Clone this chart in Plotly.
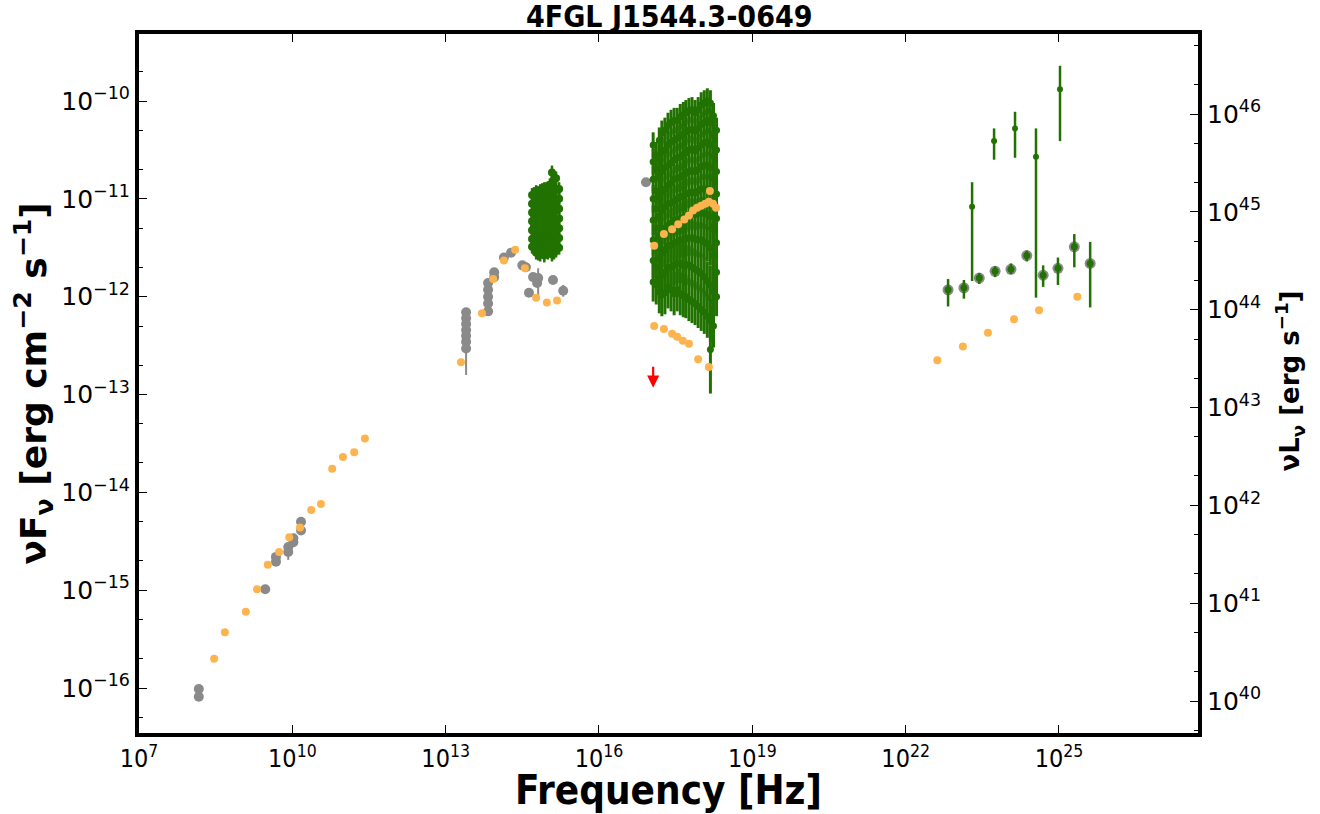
import numpy as np
import plotly.graph_objects as go

# ---------------- data, log10 units ----------------
# Template SED (orange)
tmpl_lognu = [8.47, 8.68, 9.09, 9.31, 9.52, 9.74, 9.94, 10.15, 10.37, 10.56, 10.78, 10.99, 11.21, 11.42,
              13.30, 13.71, 13.93, 14.14, 14.36, 14.55, 14.77, 14.98, 15.18,
              17.08, 17.27, 17.43, 17.55, 17.67, 17.76, 17.84, 17.92, 18.00, 18.08, 18.15, 18.17, 18.23, 18.29,
              17.08, 17.27, 17.43, 17.53, 17.64, 17.76, 17.94, 18.15,
              22.62, 23.12, 23.61, 24.12, 24.61, 25.36]
tmpl_logf = [-15.70, -15.43, -15.22, -14.99, -14.74, -14.61, -14.46, -14.36, -14.18, -14.12, -13.76, -13.64, -13.59, -13.45,
             -12.67, -12.17, -11.82, -11.63, -11.52, -11.71, -12.01, -12.06, -12.04,
             -11.48, -11.36, -11.31, -11.26, -11.21, -11.17, -11.12, -11.09, -11.07, -11.05, -11.03, -10.92, -11.05, -11.09,
             -12.30, -12.33, -12.38, -12.41, -12.45, -12.48, -12.64, -12.72,
             -12.65, -12.51, -12.37, -12.23, -12.14, -12.00]

# Archival data (gray)
arch_lognu = [8.17, 8.17, 9.47, 9.68, 9.68, 9.92, 9.92, 10.02, 10.02, 10.17, 10.17,
              13.40, 13.40, 13.40, 13.40, 13.40, 13.40, 13.40,
              13.83, 13.83, 13.83, 13.83, 13.83, 13.95, 13.95, 14.14, 14.28, 14.50, 14.57,
              14.71, 14.81, 14.63, 14.79, 15.10, 15.30, 16.92]
arch_logf = [-16.01, -16.09, -14.99, -14.66, -14.71, -14.56, -14.61, -14.47, -14.51, -14.30, -14.39,
             -12.16, -12.22, -12.28, -12.34, -12.40, -12.46, -12.53,
             -11.86, -11.93, -12.00, -12.07, -12.15, -11.75, -11.80, -11.60, -11.55, -11.68, -11.70,
             -11.80, -11.81, -11.96, -11.86, -11.83, -11.94, -10.83]
arch_err_lo = [0.02, 0.02, 0.02, 0.02, 0.02, 0.03, 0.08, 0.02, 0.02, 0.02, 0.02,
               0.02, 0.02, 0.02, 0.02, 0.02, 0.02, 0.27,
               0.02, 0.02, 0.02, 0.02, 0.02, 0.02, 0.02, 0.02, 0.02, 0.02, 0.02,
               0.02, 0.19, 0.02, 0.02, 0.02, 0.06, 0.02]
arch_err_hi = [0.02, 0.02, 0.02, 0.02, 0.02, 0.03, 0.04, 0.02, 0.02, 0.02, 0.02,
               0.04, 0.02, 0.02, 0.02, 0.02, 0.02, 0.02,
               0.02, 0.02, 0.02, 0.02, 0.02, 0.02, 0.02, 0.02, 0.02, 0.02, 0.02,
               0.02, 0.10, 0.02, 0.02, 0.02, 0.06, 0.02]

# Optical/UV multi-epoch data (green)
opt_lognu = [14.69, 14.73, 14.77, 14.81, 14.85, 14.89, 14.93, 14.97, 15.00, 15.04, 15.08, 15.12, 15.16, 15.22]
opt_logf = [
    [-10.96, -11.05, -11.14, -11.23, -11.32, -11.41, -11.49],
    [-10.95, -11.06, -11.17, -11.28, -11.39, -11.50],
    [-10.93, -11.02, -11.11, -11.20, -11.30, -11.40, -11.50, -11.55],
    [-10.94, -11.05, -11.16, -11.27, -11.38, -11.49, -11.56],
    [-10.92, -11.01, -11.10, -11.20, -11.30, -11.40, -11.50, -11.57],
    [-10.91, -11.03, -11.15, -11.27, -11.39, -11.51],
    [-10.90, -10.99, -11.09, -11.19, -11.29, -11.39, -11.49, -11.58],
    [-10.90, -11.02, -11.14, -11.26, -11.38, -11.50],
    [-10.89, -10.98, -11.08, -11.18, -11.28, -11.38, -11.48, -11.55],
    [-10.86, -10.99, -11.12, -11.25, -11.38, -11.51],
    [-10.84, -10.73, -10.94, -11.04, -11.14, -11.25, -11.36, -11.47, -11.57],
    [-10.80, -10.93, -11.06, -11.19, -11.32, -11.45, -11.55],
    [-10.79, -10.90, -11.01, -11.12, -11.23, -11.34, -11.45, -11.53],
    [-10.90, -11.00, -11.10, -11.20, -11.30, -11.40, -11.50],
]
opt_err = 0.07

# X-ray multi-epoch data (green)
xray_lognu = [17.06, 17.12, 17.18, 17.23, 17.29, 17.35, 17.41, 17.47, 17.53, 17.59, 17.65,
              17.70, 17.76, 17.82, 17.88, 17.94, 18.00, 18.06, 18.12, 18.18, 18.24, 18.30]
xray_logf = [
    [-10.45, -10.62, -10.80, -11.00, -11.22, -11.42, -11.63, -11.85],
    [-10.55, -10.70, -10.92, -11.10, -11.30, -11.50, -11.70, -11.88],
    [-10.40, -10.58, -10.77, -10.98, -11.18, -11.38, -11.60, -11.82, -11.95],
    [-10.33, -10.52, -10.72, -10.93, -11.12, -11.35, -11.55, -11.78, -11.98],
    [-10.30, -10.50, -10.68, -10.90, -11.08, -11.30, -11.52, -11.75, -11.96],
    [-10.25, -10.45, -10.66, -10.86, -11.05, -11.27, -11.48, -11.70, -11.90],
    [-10.22, -10.42, -10.63, -10.84, -11.04, -11.25, -11.47, -11.70, -11.93],
    [-10.20, -10.40, -10.60, -10.80, -11.02, -11.22, -11.45, -11.68, -11.97],
    [-10.20, -10.38, -10.58, -10.79, -11.00, -11.21, -11.44, -11.66, -11.93],
    [-10.16, -10.36, -10.57, -10.78, -10.98, -11.20, -11.42, -11.66, -11.97],
    [-10.14, -10.34, -10.55, -10.76, -10.97, -11.19, -11.42, -11.68, -11.99],
    [-10.12, -10.32, -10.53, -10.74, -10.95, -11.18, -11.41, -11.67, -12.00],
    [-10.10, -10.30, -10.50, -10.72, -10.94, -11.16, -11.40, -11.68, -12.03],
    [-10.09, -10.29, -10.49, -10.71, -10.93, -11.15, -11.40, -11.70, -12.05],
    [-10.12, -10.31, -10.51, -10.72, -10.94, -11.16, -11.41, -11.72, -12.07],
    [-10.09, -10.28, -10.48, -10.70, -10.92, -11.15, -11.42, -11.74, -12.10],
    [-10.04, -10.24, -10.45, -10.67, -10.90, -11.14, -11.42, -11.76, -12.13],
    [-10.02, -10.22, -10.43, -10.66, -10.90, -11.15, -11.44, -11.80, -12.16],
    [-10.00, -10.20, -10.42, -10.66, -10.90, -11.16, -11.46, -11.84, -12.20],
    [-10.02, -10.22, -10.45, -10.68, -10.92, -11.18, -11.50, -11.88, -12.24, -12.54],
    [-10.15, -10.35, -10.56, -10.78, -11.02, -11.28, -11.58, -11.95, -12.30],
    [-10.30, -10.50, -10.72, -10.95, -11.20, -11.45, -11.75, -12.00],
]
xray_err_by_row = [0.13, 0.13, 0.14, 0.14, 0.15, 0.16, 0.18, 0.20, 0.22, 0.45]

# Gamma-ray: catalog (gray ring + green) and light-curve-like points (green)
gam_lognu = [22.83, 23.14, 23.44, 23.75, 24.06, 24.37, 24.69, 24.98, 25.30, 25.61]
gam_logf = [-11.93, -11.91, -11.81, -11.74, -11.72, -11.58, -11.78, -11.71, -11.49, -11.66]
gam_logf_top = [-11.82, -11.83, -11.76, -11.69, -11.66, -11.53, -11.68, -11.60, -11.36, -11.44]
gam_logf_bot = [-12.10, -12.02, -11.87, -11.80, -11.77, -11.64, -11.90, -11.88, -11.70, -12.11]

gam2_lognu = [23.30, 23.73, 24.14, 24.55, 25.02]
gam2_logf = [-11.08, -10.41, -10.28, -10.57, -9.88]
gam2_logf_top = [-10.83, -10.28, -10.11, -10.28, -9.64]
gam2_logf_bot = [-11.84, -10.60, -10.58, -12.01, -10.41]

# Upper limit (red arrow): from / to
ul_lognu = 17.06
ul_logf_from = -12.70
ul_logf_to = -12.93

# axes
x_log_range = [7.0, 27.72]
y_log_range = [-16.46, -9.315]
lum_offset = 56.133  # log(nuL_nu) - log(nuF_nu)
x_tick_exp = [7, 10, 13, 16, 19, 22, 25]
y_tick_exp = [-16, -15, -14, -13, -12, -11, -10]
y2_tick_exp = [40, 41, 42, 43, 44, 45, 46]

title_text = "4FGL J1544.3-0649"

# ---------------- styling ----------------
ORANGE = "#FDB44E"
GRAY = "#8A8A8A"
GREEN = "#217200"
COND = "DejaVu Sans Condensed, Liberation Sans Narrow, DejaVu Sans"

fig = go.Figure()


def lin(a):
    return 10 ** np.asarray(a, dtype=float)


def add(lognu, logf, lo, hi, color, size, ecolor, ethick):
    f = lin(logf)
    lo = np.asarray(lo, dtype=float)
    hi = np.asarray(hi, dtype=float)
    fig.add_trace(go.Scatter(
        x=lin(lognu), y=f, mode="markers",
        marker=dict(color=color, size=size, line=dict(width=0)),
        error_y=dict(type="data", symmetric=False,
                     array=f * (10 ** hi - 1), arrayminus=f * (1 - 10 ** (-lo)),
                     color=ecolor, thickness=ethick, width=0),
        showlegend=False, hoverinfo="skip"))


# gray archival
add(arch_lognu, arch_logf, arch_err_lo, arch_err_hi, GRAY, 10, GRAY, 2)
# gray catalog gamma ring (under green)
add(gam_lognu, gam_logf, np.zeros(len(gam_logf)), np.zeros(len(gam_logf)), GRAY, 11, GRAY, 0)

# green optical
ox, oy = [], []
for nu, col in zip(opt_lognu, opt_logf):
    for v in col:
        ox.append(nu)
        oy.append(v)
add(ox, oy, [opt_err] * len(oy), [opt_err] * len(oy), GREEN, 8, GREEN, 2.5)

# green x-ray
xx, xy, xe = [], [], []
for nu, col in zip(xray_lognu, xray_logf):
    for i, v in enumerate(col):
        xx.append(nu)
        xy.append(v)
        xe.append(xray_err_by_row[i])
add(xx, xy, xe, xe, GREEN, 7, GREEN, 3)

# green gamma
gf = np.asarray(gam_logf)
add(gam_lognu, gam_logf, gf - np.asarray(gam_logf_bot), np.asarray(gam_logf_top) - gf, GREEN, 7, GREEN, 2.5)
g2 = np.asarray(gam2_logf)
add(gam2_lognu, gam2_logf, g2 - np.asarray(gam2_logf_bot), np.asarray(gam2_logf_top) - g2, GREEN, 6, GREEN, 2.5)

# orange template on top
add(tmpl_lognu, tmpl_logf, np.zeros(len(tmpl_logf)), np.zeros(len(tmpl_logf)), ORANGE, 8, ORANGE, 0)

# hidden trace so that the luminosity axis is drawn
fig.add_trace(go.Scatter(x=[], y=[], yaxis="y2", showlegend=False))

# upper limit arrow
fig.add_annotation(x=ul_lognu, y=ul_logf_to, ax=ul_lognu, ay=ul_logf_from,
                   xref="x", yref="y", axref="x", ayref="y",
                   showarrow=True, arrowhead=2, arrowsize=1.1, arrowwidth=2.2,
                   arrowcolor="red", text="")

tick_font_y = dict(family="DejaVu Sans", size=25, color="black")
tick_font_x = dict(family=COND, size=25, color="black")

fig.update_layout(
    width=1320, height=814,
    margin=dict(l=139, r=122, t=34, b=81),
    paper_bgcolor="white", plot_bgcolor="white",
    xaxis=dict(type="log", range=x_log_range, automargin=False,
               tickvals=[10.0 ** e for e in x_tick_exp],
               ticktext=[f"10<sup>{e}</sup>" for e in x_tick_exp],
               ticks="inside", ticklen=8, tickwidth=1, tickcolor="black",
               showline=True, linewidth=4, linecolor="black", mirror="ticks",
               showgrid=False, zeroline=False, tickfont=tick_font_x),
    yaxis=dict(type="log", range=y_log_range, automargin=False,
               tickvals=[10.0 ** e for e in y_tick_exp],
               ticktext=[f"10<sup>\u2212{-e}</sup>" for e in y_tick_exp],
               ticks="inside", ticklen=8, tickwidth=1, tickcolor="black",
               minor=dict(ticks="inside", ticklen=4, tickwidth=1, tickcolor="black", showgrid=False),
               showline=True, linewidth=4, linecolor="black",
               showgrid=False, zeroline=False, tickfont=tick_font_y),
    yaxis2=dict(type="log", overlaying="y", side="right", automargin=False,
                range=[y_log_range[0] + lum_offset, y_log_range[1] + lum_offset],
                tickvals=[10.0 ** e for e in y2_tick_exp],
                ticktext=[f"10<sup>{e}</sup>" for e in y2_tick_exp],
                ticks="inside", ticklen=8, tickwidth=1, tickcolor="black",
                minor=dict(ticks="inside", ticklen=4, tickwidth=1, tickcolor="black", showgrid=False),
                showline=True, linewidth=4, linecolor="black",
                showgrid=False, zeroline=False, tickfont=tick_font_y),
)

fig.add_annotation(text=f"<b>{title_text}</b>", xref="paper", yref="paper", x=0.5, y=1,
                   xanchor="center", yanchor="middle", yshift=18, showarrow=False,
                   font=dict(family=COND, size=30, color="black"))
fig.add_annotation(text="<b>Frequency [Hz]</b>", xref="paper", yref="paper", x=0.5, y=0,
                   xanchor="center", yanchor="middle", yshift=-57, showarrow=False,
                   font=dict(family=COND, size=40, color="black"))
fig.add_annotation(text="<b>\u03bdF<sub>\u03bd</sub> [erg cm<sup>\u22122</sup> s<sup>\u22121</sup>]</b>",
                   xref="paper", yref="paper", x=0, y=0.5, xanchor="center", yanchor="middle",
                   xshift=-106, textangle=-90, showarrow=False,
                   font=dict(family="DejaVu Sans", size=36, color="black"))
fig.add_annotation(text="<b>\u03bdL<sub>\u03bd</sub> [erg s<sup>\u22121</sup>]</b>",
                   xref="paper", yref="paper", x=1, y=0.5, xanchor="center", yanchor="middle",
                   xshift=92, yshift=2, textangle=-90, showarrow=False,
                   font=dict(family="DejaVu Sans", size=26, color="black"))

# remove the default 8px page margin so the 1320x814 figure fills the window exactly
fig.write_html("out.html", config={"displayModeBar": False},
               post_script="document.body.style.margin='0';")
